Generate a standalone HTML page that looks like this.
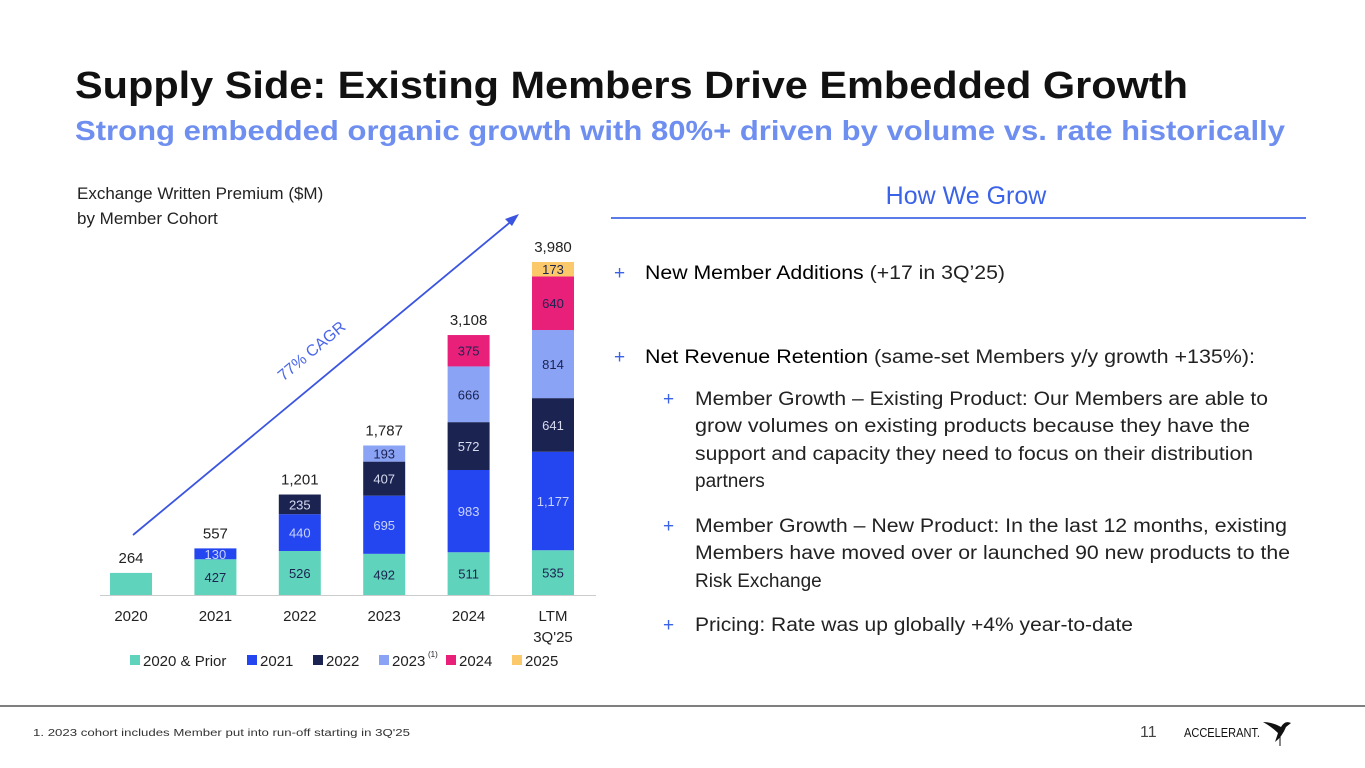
<!DOCTYPE html>
<html><head><meta charset="utf-8"><style>
html,body{margin:0;padding:0;background:#fff;}
svg{display:block;font-family:"Liberation Sans",sans-serif;}
</style></head><body>
<svg id="s" width="1365" height="768" viewBox="0 0 1365 768">
<text x="75" y="98" font-size="38" font-weight="bold" fill="#111" textLength="1113" lengthAdjust="spacingAndGlyphs">Supply Side: Existing Members Drive Embedded Growth</text>
<text x="75" y="140" font-size="28" font-weight="bold" fill="#6f8ff0" textLength="1210" lengthAdjust="spacingAndGlyphs">Strong embedded organic growth with 80%+ driven by volume vs. rate historically</text>
<text x="77" y="199" font-size="17" fill="#222">Exchange Written Premium ($M)</text>
<text x="77" y="224" font-size="17" fill="#222">by Member Cohort</text>
<g id="chart"></g>
<text x="966" y="204" font-size="25" fill="#3b63e8" text-anchor="middle">How We Grow</text>
<line x1="611" y1="218" x2="1306" y2="218" stroke="#5b7be8" stroke-width="2"/>
<g font-size="19" fill="#222">
<text x="614" y="279" fill="#3b63e8">+</text>
<text x="645" y="279" textLength="360" lengthAdjust="spacingAndGlyphs"><tspan fill="#000">New Member Additions</tspan> (+17 in 3Q’25)</text>
<text x="614" y="363" fill="#3b63e8">+</text>
<text x="645" y="363" textLength="610" lengthAdjust="spacingAndGlyphs"><tspan fill="#000">Net Revenue Retention</tspan> (same-set Members y/y growth +135%):</text>
<text x="663" y="405" fill="#3b63e8">+</text>
<text x="695" y="405" textLength="573" lengthAdjust="spacingAndGlyphs">Member Growth – Existing Product: Our Members are able to</text>
<text x="695" y="432" textLength="555" lengthAdjust="spacingAndGlyphs">grow volumes on existing products because they have the</text>
<text x="695" y="460" textLength="558" lengthAdjust="spacingAndGlyphs">support and capacity they need to focus on their distribution</text>
<text x="695" y="487">partners</text>
<text x="663" y="532" fill="#3b63e8">+</text>
<text x="695" y="532" textLength="592" lengthAdjust="spacingAndGlyphs">Member Growth – New Product: In the last 12 months, existing</text>
<text x="695" y="559" textLength="595" lengthAdjust="spacingAndGlyphs">Members have moved over or launched 90 new products to the</text>
<text x="695" y="587">Risk Exchange</text>
<text x="663" y="631" fill="#3b63e8">+</text>
<text x="695" y="631" textLength="438" lengthAdjust="spacingAndGlyphs">Pricing: Rate was up globally +4% year-to-date</text>
</g>
<line x1="0" y1="706" x2="1365" y2="706" stroke="#555" stroke-width="1.5"/>
<text x="33" y="736" font-size="10" fill="#333" textLength="377" lengthAdjust="spacingAndGlyphs">1.     2023 cohort includes Member put into run-off starting in 3Q'25</text>
<text x="1140" y="737" font-size="16" fill="#444">11</text>
<text x="1184" y="737" font-size="13" fill="#111" textLength="76" lengthAdjust="spacingAndGlyphs">ACCELERANT.</text>
<path d="M1263 722 Q1272 722 1281 727 Q1285 720 1291 723 L1286 727 Q1282 737 1275 742 L1278 733 Q1272 727 1263 722Z" fill="#111"/>
<line x1="1280" y1="735" x2="1280" y2="746" stroke="#111" stroke-width="1"/>
</svg>
<script>
const categories = ["2020","2021","2022","2023","2024","LTM"];
const cohortNames = ["2020 & Prior","2021","2022","2023","2024","2025"];
const cohort2020 = [264,427,526,492,511,535];
const cohort2021 = [0,130,440,695,983,1177];
const cohort2022 = [0,0,235,407,572,641];
const cohort2023 = [0,0,0,193,666,814];
const cohort2024 = [0,0,0,0,375,640];
const cohort2025 = [0,0,0,0,0,173];
const totals = [264,557,1201,1787,3108,3980];
const showSegLabel = [false,true,true,true,true,true];

const NS="http://www.w3.org/2000/svg";
const g=document.getElementById('chart');
const series=[cohort2020,cohort2021,cohort2022,cohort2023,cohort2024,cohort2025];
const colors=["#5fd3bb","#2446f0","#1b2350","#8aa3f5","#e8207a","#fcc96a"];
const txtCol=["#1b2350","#c9d3ff","#d6dbf0","#1b2350","#1b2350","#1b2350"];
const baseY=595, k=333/3980, x0=131, step=84.4, bw=42;
const xs=i=>x0+i*step;
const ys=v=>baseY-v*k;
function el(t,a){const e=document.createElementNS(NS,t);for(const q in a)e.setAttribute(q,a[q]);g.appendChild(e);return e;}
categories.forEach((c,i)=>{
  let cum=0;
  series.forEach((s,j)=>{
    const v=s[i]; if(!v) return;
    const r=el('rect',{x:xs(i)-bw/2,y:ys(cum+v),width:bw,height:v*k,fill:colors[j]});
    
    
    if(showSegLabel[i]){
      const t=el('text',{x:xs(i),y:ys(cum+v/2)+5,'font-size':13,'text-anchor':'middle',fill:txtCol[j]});
      t.textContent=v.toLocaleString('en-US');
      
      
    }
    cum+=v;
  });
  const tt=el('text',{x:xs(i),y:ys(totals[i])-10,'font-size':15,'text-anchor':'middle',fill:'#222'});
  tt.textContent=totals[i].toLocaleString('en-US');
  
  
  const ct=el('text',{x:xs(i),y:621,'font-size':15,'text-anchor':'middle',fill:'#222'});
  ct.textContent=c;
  
  
});
const sub=el('text',{x:xs(5),y:642,'font-size':15,'text-anchor':'middle',fill:'#222'});
sub.textContent="3Q'25";


const ax=el('line',{x1:100,y1:baseY+0.5,x2:596,y2:baseY+0.5,stroke:'#ccc','stroke-width':1});


const ar=el('line',{x1:133,y1:535,x2:514,y2:219,stroke:'#3b55e0','stroke-width':1.8});


const ah=el('path',{d:'M519 214 L505 219 L512 226 Z',fill:'#3b55e0'});


const cg=el('text',{x:0,y:0,'font-size':16,fill:'#4a66e8','text-anchor':'middle',transform:'translate(315,355) rotate(-40)'});
cg.textContent='77% CAGR';


const lx=[130,247,313,379,446,512];
cohortNames.forEach((n,j)=>{
  const r=el('rect',{x:lx[j],y:655,width:10,height:10,fill:colors[j]});
  
  
  const t=el('text',{x:lx[j]+13,y:666,'font-size':15,fill:'#222'});
  t.textContent=n;
  
  
});
const sp=el('text',{x:428,y:657,'font-size':8,fill:'#222'});
sp.textContent='(1)';


</script>
</body></html>
